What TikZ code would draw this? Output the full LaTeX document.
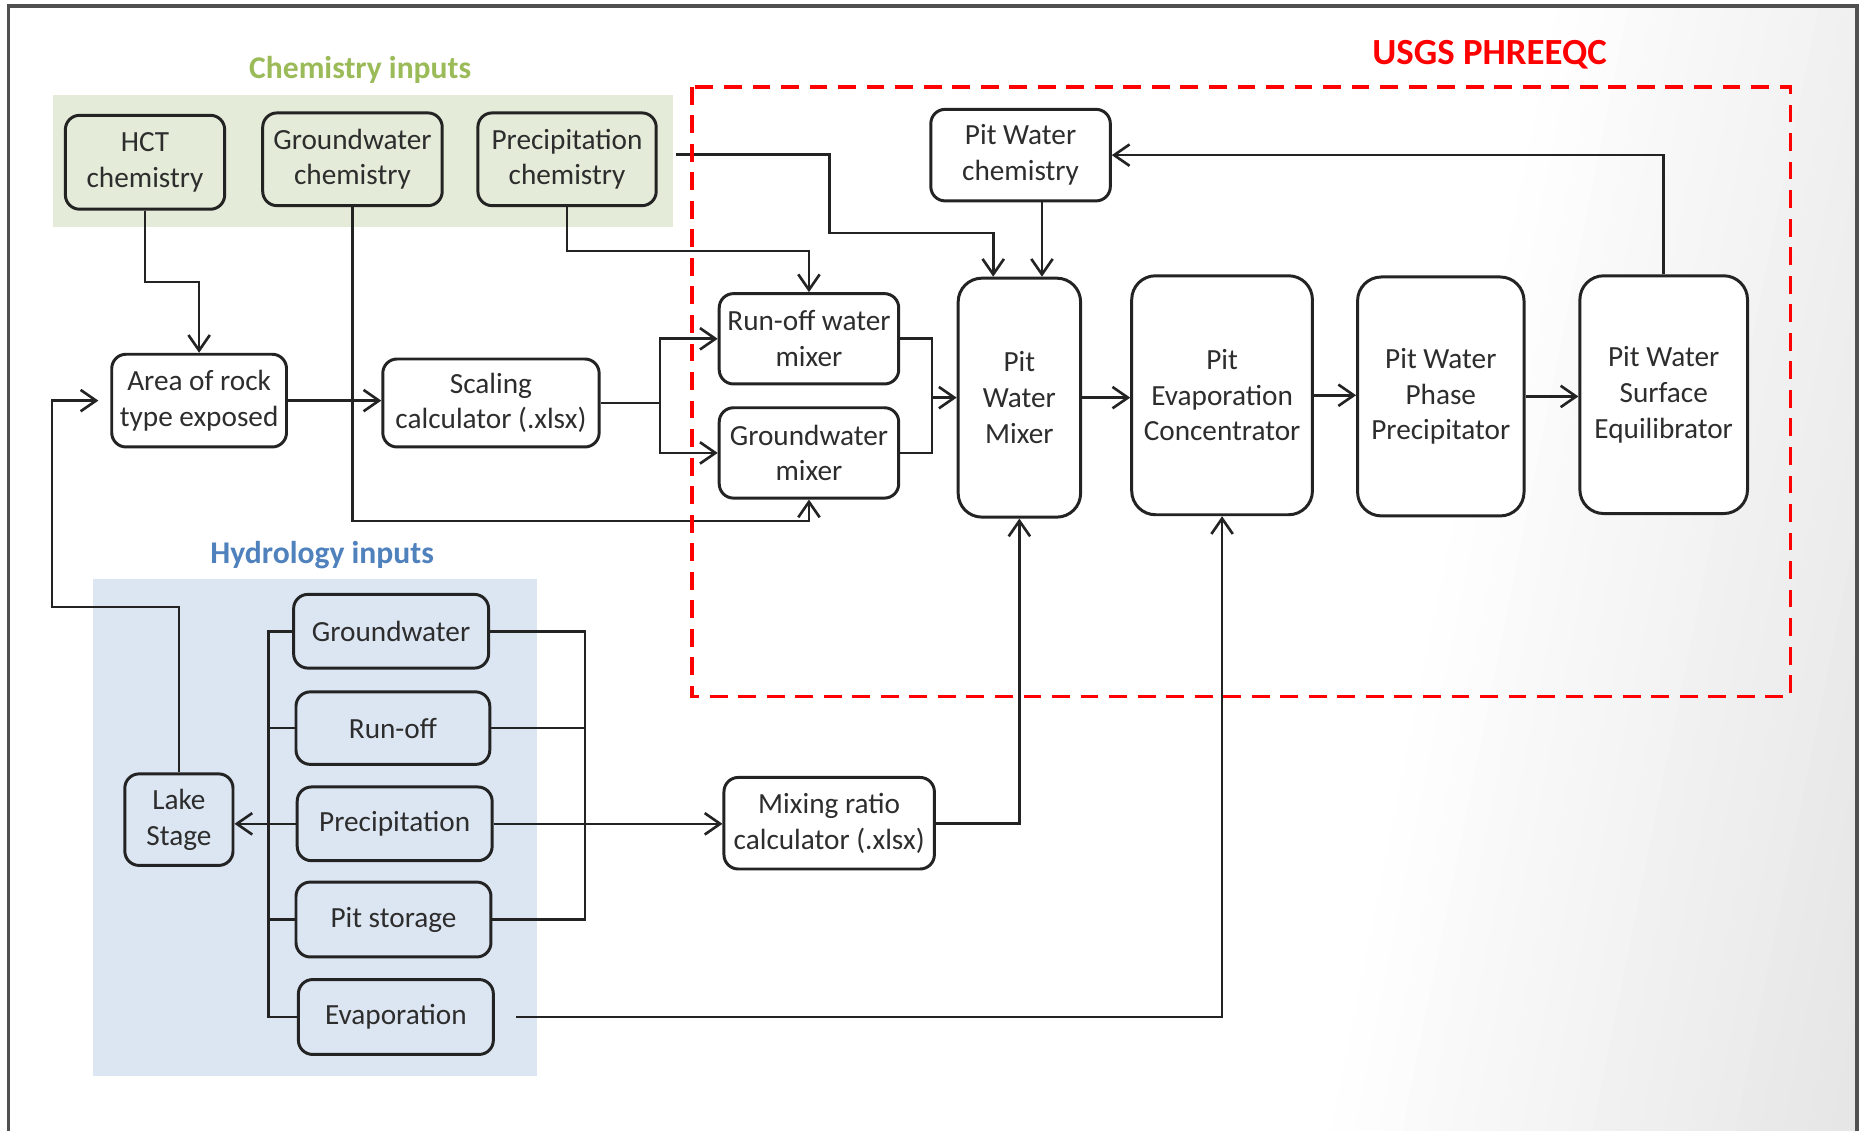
\documentclass[tikz,border=0pt]{standalone}
\usepackage{fontspec}
\setmainfont{Carlito}
\usetikzlibrary{arrows.meta,calc}
\definecolor{chemgreen}{RGB}{155,187,89}
\definecolor{chembg}{RGB}{228,235,216}
\definecolor{hydblue}{RGB}{79,129,189}
\definecolor{hydbg}{RGB}{220,230,242}
\definecolor{ink}{RGB}{35,35,35}
\definecolor{txt}{RGB}{45,45,45}
\definecolor{frame}{RGB}{80,80,80}
\begin{document}
\begin{tikzpicture}[x=0.5pt,y=-0.5pt,
  sz/.style 2 args={minimum width=#1*0.5pt,minimum height=#2*0.5pt},
  box/.style={draw=ink,line width=1.25pt,rounded corners=6pt,fill=white,align=center,
    inner sep=0pt,font=\fontsize{12.3}{15}\selectfont,text=txt},
  tall/.style={box,rounded corners=10pt},
  chem/.style={box,fill=chembg},
  hyd/.style={box,fill=hydbg},
  conn/.style={draw=ink,line width=1.1pt},
  arr/.style={conn,-{Straight Barb[length=6.5pt,width=9pt,line width=1.1pt]}},
  title/.style={font=\fontsize{13.3}{16}\selectfont\bfseries}
]
\useasboundingbox (0,0) rectangle (1568,951);
\fill[white] (0,0) rectangle (1568,951);
\begin{scope}
  \clip (7,5) rectangle (1562,951);
  \foreach \i in {0,...,23}{
    \pgfmathsetmacro\xa{1100+\i*20}
    \pgfmathsetmacro\g{\i*0.45}
    \fill[black!\g] (\xa,951) -- (\xa+190,5) -- (2000,5) -- (2000,951) -- cycle;
  }
\end{scope}
\draw[frame,line width=1.4pt] (7,960) -- (7,5) -- (1562,5) -- (1562,960);

% group backgrounds
\fill[chembg] (45,80) rectangle (566,191);
\fill[hydbg] (78,487) rectangle (452,905);
\node[title,text=chemgreen] (tchem) at (303,59) {Chemistry inputs};
\node[title,text=hydblue] (thyd) at (271,467) {Hydrology inputs};
\node[font=\fontsize{15.5}{18}\selectfont\bfseries,text=red] (tusgs) at (1253,46) {USGS PHREEQC};

% chemistry inputs
\node[chem,sz={134}{79}] (hct) at (122,136.5) {HCT\\chemistry};
\node[chem,sz={151}{78}] (gwc) at (296.5,134) {Groundwater\\chemistry};
\node[chem,sz={150}{78}] (prc) at (477,134) {Precipitation\\chemistry};

% middle row
\node[box,sz={147}{78}] (area) at (167.5,337) {Area of rock\\type exposed};
\node[box,sz={182}{74}] (scal) at (413,339) {Scaling\\calculator (.xlsx)};
\node[box,sz={151}{76}] (rom) at (680.5,285) {Run-off water\\mixer};
\node[box,sz={151}{76}] (gwm) at (680.5,381) {Groundwater\\mixer};
\node[box,sz={151}{77}] (pwc) at (858.5,130.5) {Pit Water\\chemistry};
\node[tall,sz={103}{201}] (pwm) at (857.5,334.5) {Pit\\Water\\Mixer};
\node[tall,sz={152}{201}] (pec) at (1028,332.5) {Pit\\Evaporation\\Concentrator};
\node[tall,sz={140}{201}] (pwp) at (1212,333.5) {Pit Water\\Phase\\Precipitator};
\node[tall,sz={141}{200}] (pws) at (1399.5,332) {Pit Water\\Surface\\Equilibrator};
\node[box,sz={177}{77}] (mrc) at (697.5,692.5) {Mixing ratio\\calculator (.xlsx)};

% hydrology inputs
\node[hyd,sz={164}{62}] (hgw) at (329,531) {Groundwater};
\node[hyd,sz={163}{61}] (hro) at (330.5,612.5) {Run-off};
\node[hyd,sz={164}{62}] (hpr) at (332,693) {Precipitation};
\node[hyd,sz={164}{63}] (hps) at (331,773.5) {Pit storage};
\node[hyd,sz={164}{63}] (hev) at (333,855.5) {Evaporation};
\node[hyd,sz={91}{77}] (lake) at (150.5,689.5) {Lake\\Stage};

% helper coordinates
\coordinate (jm) at (784,334.5);
\coordinate (pwmL) at ([xshift=-11pt]pwm.north);
\coordinate (pwcB) at ([xshift=9pt]pwc.south);
\coordinate (lbT) at (226,531);
\coordinate (lbB) at (226,855.5);
\coordinate (rbT) at (492,531);
\coordinate (rbB) at (492,773.5);

% connectors: chemistry
\draw[arr] (hct.south) -- ++(0,60) -| (area.north);
\draw[arr] (gwc.south) -- ++(0,264) -| (gwm.south);
\draw[arr] (prc.south) -- ++(0,37) -| (rom.north);
\draw[arr,shorten <=7.5pt] ([yshift=2pt]prc.east) -| (698,196) -| (pwmL);
\draw[arr] (pwcB) -- (pwcB |- pwm.north);
\draw[arr] (pws.north) |- (pwc.east);

% connectors: middle row
\draw[arr] (area.east) -- (area.east -| scal.west);
\draw[arr] (scal.east) -- ++(50,0) |- (rom.west);
\draw[arr] (scal.east) -- ++(50,0) |- (gwm.west);
\draw[conn] (rom.east) -| (jm);
\draw[conn] (gwm.east) -| (jm);
\draw[arr] (jm) -- (pwm.west);
\draw[arr] (pwm.east) -- (pwm.east -| pec.west);
\draw[arr] (pec.east) -- (pec.east -| pwp.west);
\draw[arr] (pwp.east) -- (pwp.east -| pws.west);

% connectors: hydrology
\draw[arr,shorten >=5pt] (lake.north) -- ++(0,-139) -| ([xshift=-24.5pt]area.west) -- (area.west);
\draw[conn] (hgw.west) -- (lbT) -- (lbB) -- (hev.west);
\draw[conn] (hro.west) -- (hro.west -| lbT);
\draw[conn] (hps.west) -- (hps.west -| lbT);
\draw[arr] (hpr.west) -- (hpr.west -| lake.east);
\draw[conn] (hgw.east) -- (rbT) -- (rbB) -- (hps.east);
\draw[conn] (hro.east) -- (hro.east -| rbT);
\draw[arr] (hpr.east) -- (hpr.east -| mrc.west);
\draw[arr] (mrc.east) -| (pwm.south);
\draw[arr,shorten <=9pt] (hev.east) -| (pec.south);

% PHREEQC boundary
\draw[red,line width=1.5pt,dash pattern=on 7.5pt off 4.5pt] (582,73) rectangle (1506,586);
\end{tikzpicture}
\end{document}
